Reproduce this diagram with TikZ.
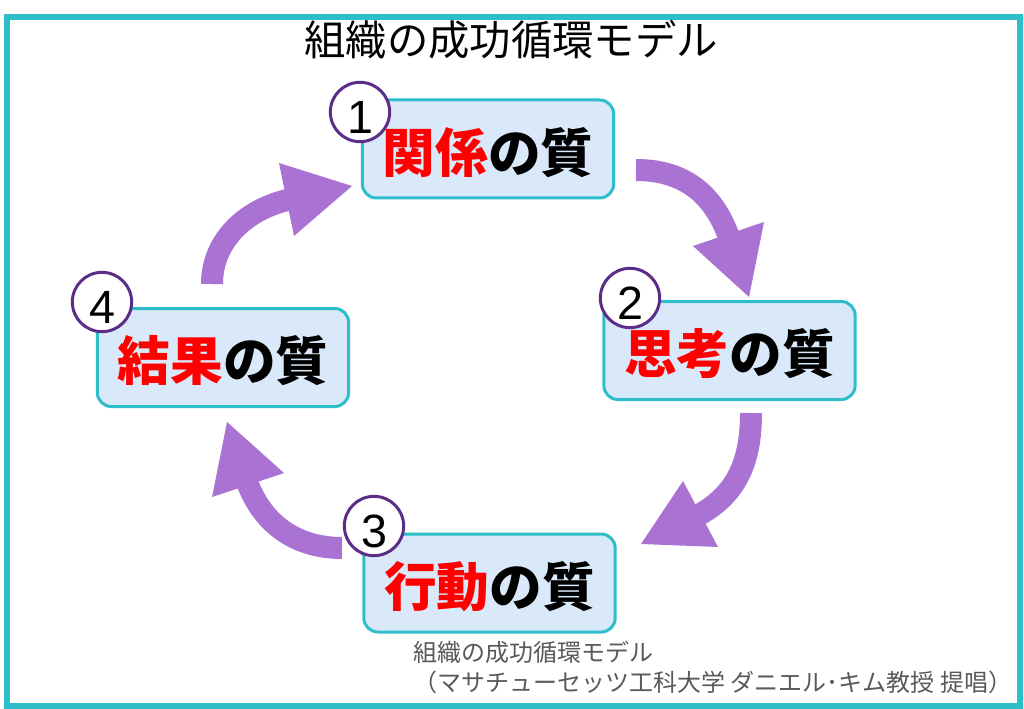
\documentclass[tikz,border=0pt]{standalone}
\usepackage{fontspec}
\setmainfont{Noto Sans CJK JP}
\newfontfamily\digitfont{Liberation Sans}
\definecolor{frameteal}{HTML}{2DBECA}
\definecolor{boxfill}{HTML}{DAE9F9}
\definecolor{arrowpurple}{HTML}{AA73D3}
\definecolor{ringpurple}{HTML}{5C2E8A}
\definecolor{capgray}{HTML}{595959}
\definecolor{qred}{HTML}{FF0000}
\newcommand{\qtext}[2]{{\color{qred}#1}#2}
\begin{document}
\begin{tikzpicture}[x=0.75pt,y=-0.75pt,
  frame/.style={draw=frameteal,line width=4.5pt},
  qbox/.style={draw=frameteal,fill=boxfill,line width=2.25pt,rounded corners=10.5pt,
    minimum width=188.5pt,minimum height=73.5pt,inner sep=0pt},
  qlabel/.style={font=\fontsize{39.5}{42}\selectfont\bfseries,inner sep=0pt,yshift=-2.5pt},
  numring/.style={circle,draw=ringpurple,fill=white,line width=2.25pt,minimum size=44.5pt,inner sep=0pt},
  numtext/.style={font=\digitfont\fontsize{35}{38}\selectfont,yshift=-4pt,inner sep=0pt},
  shaft/.style={draw=arrowpurple,line width=16.5pt},
  head/.style={fill=arrowpurple},
  title/.style={font=\fontsize{31}{34}\selectfont,inner sep=0pt},
  caption/.style={font=\fontsize{18}{20}\selectfont,text=capgray,inner sep=0pt,anchor=west}]
\useasboundingbox (0,0) rectangle (1024,709);
\fill[white] (0,0) rectangle (1024,709);
\draw[frame] (7,17) rectangle (1020,705.5);
\node[title] (title) at (511,40) {組織の成功循環モデル};

% arrows
\coordinate (a1s) at (636,170); \coordinate (a1e) at (730,240);
\coordinate (a1l) at (693,246); \coordinate (a1t) at (749,297); \coordinate (a1r) at (764,222);
\draw[shaft] (a1s) .. controls (686,170) and (715,196) .. (a1e);
\fill[head] (a1l) -- (a1t) -- (a1r) -- cycle;

\coordinate (a2s) at (751,413); \coordinate (a2e) at (695,517);
\coordinate (a2l) at (683,481); \coordinate (a2t) at (641,544); \coordinate (a2r) at (718,547);
\draw[shaft] (a2s) .. controls (751,463) and (736,496) .. (a2e);
\fill[head] (a2l) -- (a2t) -- (a2r) -- cycle;

\coordinate (a3s) at (342,548); \coordinate (a3e) at (246,479);
\coordinate (a3l) at (212,497); \coordinate (a3t) at (227,422); \coordinate (a3r) at (284,473);
\draw[shaft] (a3s) .. controls (295,548) and (261,523) .. (a3e);
\fill[head] (a3l) -- (a3t) -- (a3r) -- cycle;

\coordinate (a4s) at (212,284); \coordinate (a4e) at (292,199);
\coordinate (a4l) at (279,163); \coordinate (a4t) at (352,186); \coordinate (a4r) at (294,236);
\draw[shaft] (a4s) .. controls (212,240) and (247,208) .. (a4e);
\fill[head] (a4l) -- (a4t) -- (a4r) -- cycle;

% boxes
\node[qbox,label={[qlabel]center:\qtext{関係}{の質}}] (b1) at (488,149) {};
\node[qbox,label={[qlabel]center:\qtext{思考}{の質}}] (b2) at (729.5,350.5) {};
\node[qbox,label={[qlabel]center:\qtext{行動}{の質}}] (b3) at (489.5,583) {};
\node[qbox,label={[qlabel]center:\qtext{結果}{の質}}] (b4) at (223,357.5) {};

% number rings
\node[numring,label={[numtext]center:1}] (n1) at (360,112) {};
\node[numring,label={[numtext]center:2}] (n2) at (630,298) {};
\node[numring,label={[numtext]center:3}] (n3) at (374,526) {};
\node[numring,label={[numtext]center:4}] (n4) at (102,302) {};

% caption
\node[caption] (cap1) at (413,652) {組織の成功循環モデル};
\node[caption] (cap2) at (413,682) {（マサチューセッツ工科大学 ダニエル･キム教授 提唱）};
\end{tikzpicture}
\end{document}
